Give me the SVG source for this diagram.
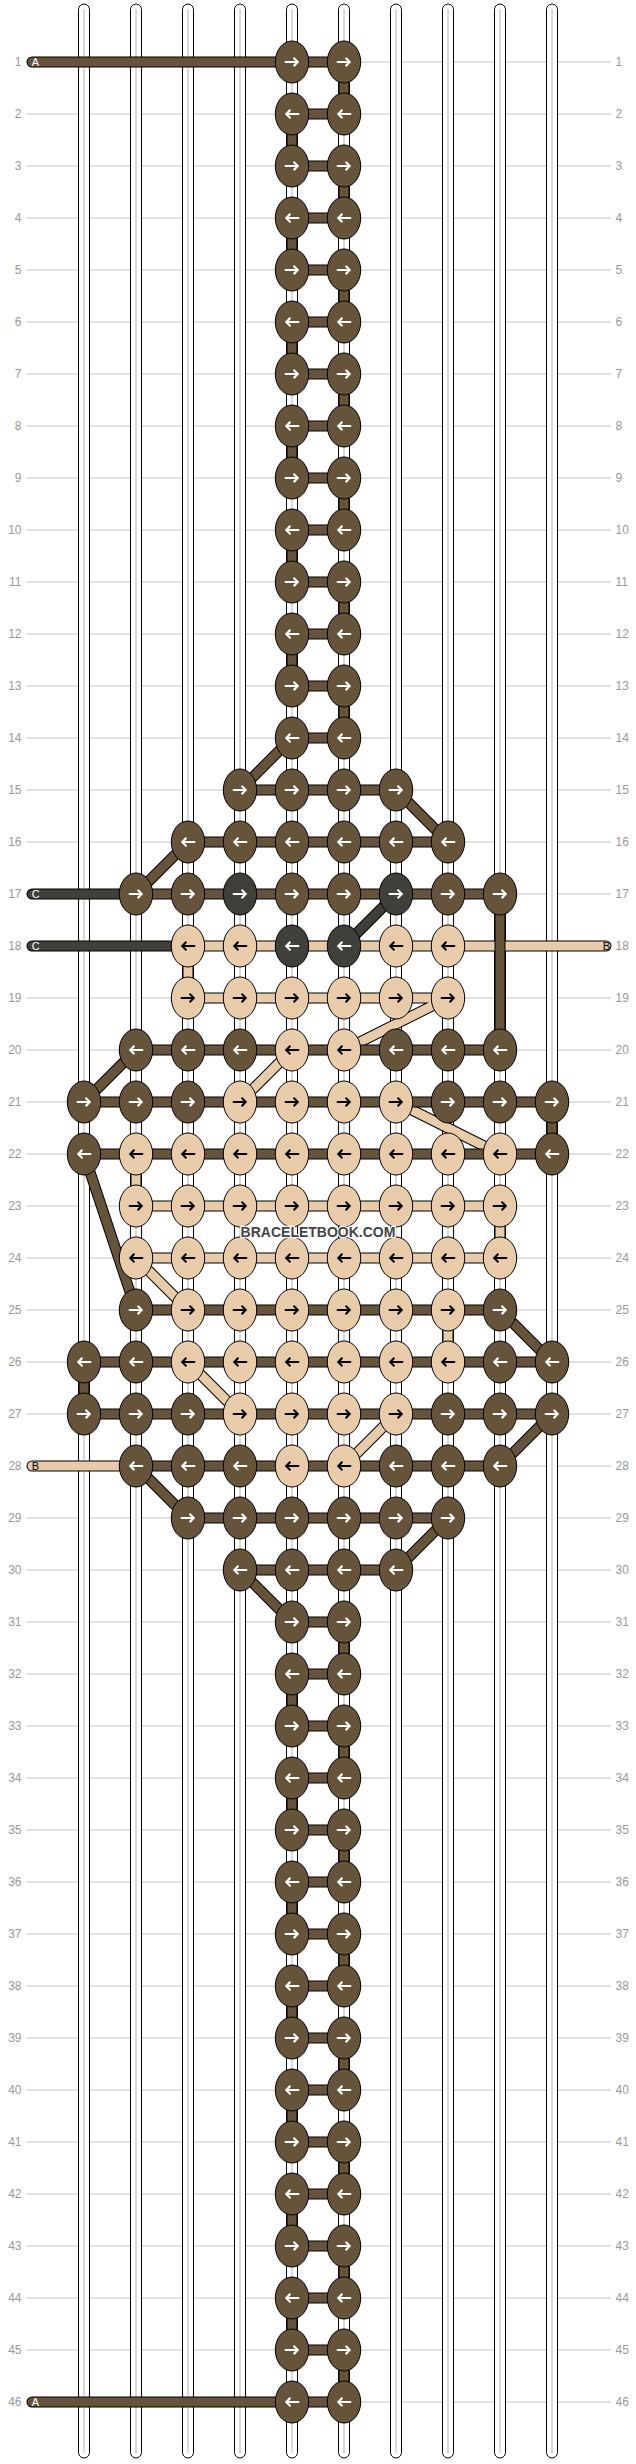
<svg xmlns="http://www.w3.org/2000/svg" xmlns:xlink="http://www.w3.org/1999/xlink" width="636" height="2464" viewBox="0 0 636 2464">
<style>
.rl{stroke:#c4c4c4;stroke-width:1;fill:none}
.num{font-family:"Liberation Sans",Arial,sans-serif;font-size:12px;fill:#999}
.ne{text-anchor:end}
.st{fill:#fff;stroke:#000;stroke-width:1}
.sc{stroke:#c8c8c8;stroke-width:1.3;fill:none}
.o{stroke:#000;stroke-width:11;fill:none}
.cd{stroke:#66543a;stroke-width:9;fill:none}
.ct{stroke:#e8cba8;stroke-width:9;fill:none}
.cg{stroke:#403f3a;stroke-width:9;fill:none}
.kd{fill:#66543a;stroke:#000;stroke-width:1}
.kt{fill:#e8cba8;stroke:#000;stroke-width:1}
.kg{fill:#403f3a;stroke:#000;stroke-width:1}
.aw{fill:none;stroke:#fff;stroke-width:2}
.ab{fill:none;stroke:#000;stroke-width:2}
.lab{font-family:"Liberation Sans",Arial,sans-serif;font-size:11px}
.wm{font-family:"Liberation Sans",Arial,sans-serif;font-size:14px;font-weight:bold;fill:#444;stroke:#fff;stroke-width:2.5;paint-order:stroke;text-anchor:middle}
</style>
<defs>
<path id="aR" d="M-7.2,0H5.5M1.6,-4.3L5.8,0L1.6,4.3"/>
<path id="aL" d="M7.2,0H-5.5M-1.6,-4.3L-5.8,0L-1.6,4.3"/>
<g id="dR"><ellipse class="kd" rx="16.7" ry="21"/><use href="#aR" class="aw"/></g>
<g id="dL"><ellipse class="kd" rx="16.7" ry="21"/><use href="#aL" class="aw"/></g>
<g id="tR"><ellipse class="kt" rx="16.7" ry="21"/><use href="#aR" class="ab"/></g>
<g id="tL"><ellipse class="kt" rx="16.7" ry="21"/><use href="#aL" class="ab"/></g>
<g id="gR"><ellipse class="kg" rx="16.7" ry="21"/><use href="#aR" class="aw"/></g>
<g id="gL"><ellipse class="kg" rx="16.7" ry="21"/><use href="#aL" class="aw"/></g>
<g id="pD">
<path d="M292 62H344M292 114H344M292 166H344M292 218H344M292 270H344M292 322H344M292 374H344M292 426H344M292 478H344M292 530H344M292 582H344M292 634H344M292 686H344M292 738H344M240 790H396M188 842H448M136 894H500M136 1050H500M84 1102H552M84 1154H552M136 1310H500M84 1362H552M84 1414H552M136 1466H500M188 1518H448M240 1570H396M292 1622H344M292 1674H344M292 1726H344M292 1778H344M292 1830H344M292 1882H344M292 1934H344M292 1986H344M292 2038H344M292 2090H344M292 2142H344M292 2194H344M292 2246H344M292 2298H344M292 2350H344M292 2402H344M344 62V114M292 114V166M344 166V218M292 218V270M344 270V322M292 322V374M344 374V426M292 426V478M344 478V530M292 530V582M344 582V634M292 634V686M344 686V738M292 738L240 790M396 790L448 842M188 842L136 894M500 894V1050M136 1050L84 1102M552 1102V1154M84 1154L136 1310M500 1310L552 1362M84 1362V1414M552 1414L500 1466M136 1466L188 1518M448 1518L396 1570M240 1570L292 1622M344 1622V1674M292 1674V1726M344 1726V1778M292 1778V1830M344 1830V1882M292 1882V1934M344 1934V1986M292 1986V2038M344 2038V2090M292 2090V2142M344 2142V2194M292 2194V2246M344 2246V2298M292 2298V2350M344 2350V2402"/>
<path stroke-linecap="round" d="M32 62H292M32 2402H292"/>
</g>
<g id="pT">
<path d="M188 946H448M188 998H448M136 1206H500M136 1258H500M188 946V998M448 998L344 1050M292 1050L240 1102M396 1102L500 1154M136 1154V1206M500 1206V1258M136 1258L188 1310M448 1310V1362M188 1362L240 1414M396 1414L344 1466"/>
<path stroke-linecap="round" d="M448 946H606M32 1466H136"/>
</g>
<g id="pG">
<path d="M396 894L344 946"/>
<path stroke-linecap="round" d="M32 894H136M32 946H188"/>
</g>
</defs>
<rect width="636" height="2464" fill="#fff"/>
<g id="rowlines">
<path class="rl" d="M26 62H611M26 114H611M26 166H611M26 218H611M26 270H611M26 322H611M26 374H611M26 426H611M26 478H611M26 530H611M26 582H611M26 634H611M26 686H611M26 738H611M26 790H611M26 842H611M26 894H611M26 946H611M26 998H611M26 1050H611M26 1102H611M26 1154H611M26 1206H611M26 1258H611M26 1310H611M26 1362H611M26 1414H611M26 1466H611M26 1518H611M26 1570H611M26 1622H611M26 1674H611M26 1726H611M26 1778H611M26 1830H611M26 1882H611M26 1934H611M26 1986H611M26 2038H611M26 2090H611M26 2142H611M26 2194H611M26 2246H611M26 2298H611M26 2350H611M26 2402H611"/>
</g>
<g id="rownumbers" class="num">
<g class="ne">
<text x="21.5" y="66">1</text><text x="21.5" y="118">2</text><text x="21.5" y="170">3</text><text x="21.5" y="222">4</text><text x="21.5" y="274">5</text><text x="21.5" y="326">6</text><text x="21.5" y="378">7</text><text x="21.5" y="430">8</text><text x="21.5" y="482">9</text><text x="21.5" y="534">10</text><text x="21.5" y="586">11</text><text x="21.5" y="638">12</text><text x="21.5" y="690">13</text><text x="21.5" y="742">14</text><text x="21.5" y="794">15</text><text x="21.5" y="846">16</text><text x="21.5" y="898">17</text><text x="21.5" y="950">18</text><text x="21.5" y="1002">19</text><text x="21.5" y="1054">20</text><text x="21.5" y="1106">21</text><text x="21.5" y="1158">22</text><text x="21.5" y="1210">23</text><text x="21.5" y="1262">24</text><text x="21.5" y="1314">25</text><text x="21.5" y="1366">26</text><text x="21.5" y="1418">27</text><text x="21.5" y="1470">28</text><text x="21.5" y="1522">29</text><text x="21.5" y="1574">30</text><text x="21.5" y="1626">31</text><text x="21.5" y="1678">32</text><text x="21.5" y="1730">33</text><text x="21.5" y="1782">34</text><text x="21.5" y="1834">35</text><text x="21.5" y="1886">36</text><text x="21.5" y="1938">37</text><text x="21.5" y="1990">38</text><text x="21.5" y="2042">39</text><text x="21.5" y="2094">40</text><text x="21.5" y="2146">41</text><text x="21.5" y="2198">42</text><text x="21.5" y="2250">43</text><text x="21.5" y="2302">44</text><text x="21.5" y="2354">45</text><text x="21.5" y="2406">46</text>
</g>
<g>
<text x="615.5" y="66">1</text><text x="615.5" y="118">2</text><text x="615.5" y="170">3</text><text x="615.5" y="222">4</text><text x="615.5" y="274">5</text><text x="615.5" y="326">6</text><text x="615.5" y="378">7</text><text x="615.5" y="430">8</text><text x="615.5" y="482">9</text><text x="615.5" y="534">10</text><text x="615.5" y="586">11</text><text x="615.5" y="638">12</text><text x="615.5" y="690">13</text><text x="615.5" y="742">14</text><text x="615.5" y="794">15</text><text x="615.5" y="846">16</text><text x="615.5" y="898">17</text><text x="615.5" y="950">18</text><text x="615.5" y="1002">19</text><text x="615.5" y="1054">20</text><text x="615.5" y="1106">21</text><text x="615.5" y="1158">22</text><text x="615.5" y="1210">23</text><text x="615.5" y="1262">24</text><text x="615.5" y="1314">25</text><text x="615.5" y="1366">26</text><text x="615.5" y="1418">27</text><text x="615.5" y="1470">28</text><text x="615.5" y="1522">29</text><text x="615.5" y="1574">30</text><text x="615.5" y="1626">31</text><text x="615.5" y="1678">32</text><text x="615.5" y="1730">33</text><text x="615.5" y="1782">34</text><text x="615.5" y="1834">35</text><text x="615.5" y="1886">36</text><text x="615.5" y="1938">37</text><text x="615.5" y="1990">38</text><text x="615.5" y="2042">39</text><text x="615.5" y="2094">40</text><text x="615.5" y="2146">41</text><text x="615.5" y="2198">42</text><text x="615.5" y="2250">43</text><text x="615.5" y="2302">44</text><text x="615.5" y="2354">45</text><text x="615.5" y="2406">46</text>
</g>
</g>
<g id="strings">
<rect class="st" x="78.5" y="4" width="11" height="2454" rx="5.5"/>
<rect class="st" x="130.5" y="4" width="11" height="2454" rx="5.5"/>
<rect class="st" x="182.5" y="4" width="11" height="2454" rx="5.5"/>
<rect class="st" x="234.5" y="4" width="11" height="2454" rx="5.5"/>
<rect class="st" x="286.5" y="4" width="11" height="2454" rx="5.5"/>
<rect class="st" x="338.5" y="4" width="11" height="2454" rx="5.5"/>
<rect class="st" x="390.5" y="4" width="11" height="2454" rx="5.5"/>
<rect class="st" x="442.5" y="4" width="11" height="2454" rx="5.5"/>
<rect class="st" x="494.5" y="4" width="11" height="2454" rx="5.5"/>
<rect class="st" x="546.5" y="4" width="11" height="2454" rx="5.5"/>
<path class="sc" d="M84 9V2453M136 9V2453M188 9V2453M240 9V2453M292 9V2453M344 9V2453M396 9V2453M448 9V2453M500 9V2453M552 9V2453"/>
</g>
<g id="connectors">
<use href="#pT" class="o"/>
<use href="#pT" class="ct"/>
<use href="#pG" class="o"/>
<use href="#pG" class="cg"/>
<use href="#pD" class="o"/>
<use href="#pD" class="cd"/>
</g>
<g id="thread-labels" class="lab">
<text x="31.8" y="66" fill="#fff">A</text>
<text x="31.8" y="898" fill="#fff">C</text>
<text x="31.8" y="950" fill="#fff">C</text>
<text x="31.8" y="1470" fill="#000">B</text>
<text x="610" y="950" fill="#000" text-anchor="end">B</text>
<text x="31.8" y="2406" fill="#fff">A</text>
</g>
<g id="knots">
<g id="n1-5"><use href="#dR" x="292" y="62"/></g><g id="n1-6"><use href="#dR" x="344" y="62"/></g>
<g id="n2-5"><use href="#dL" x="292" y="114"/></g><g id="n2-6"><use href="#dL" x="344" y="114"/></g>
<g id="n3-5"><use href="#dR" x="292" y="166"/></g><g id="n3-6"><use href="#dR" x="344" y="166"/></g>
<g id="n4-5"><use href="#dL" x="292" y="218"/></g><g id="n4-6"><use href="#dL" x="344" y="218"/></g>
<g id="n5-5"><use href="#dR" x="292" y="270"/></g><g id="n5-6"><use href="#dR" x="344" y="270"/></g>
<g id="n6-5"><use href="#dL" x="292" y="322"/></g><g id="n6-6"><use href="#dL" x="344" y="322"/></g>
<g id="n7-5"><use href="#dR" x="292" y="374"/></g><g id="n7-6"><use href="#dR" x="344" y="374"/></g>
<g id="n8-5"><use href="#dL" x="292" y="426"/></g><g id="n8-6"><use href="#dL" x="344" y="426"/></g>
<g id="n9-5"><use href="#dR" x="292" y="478"/></g><g id="n9-6"><use href="#dR" x="344" y="478"/></g>
<g id="n10-5"><use href="#dL" x="292" y="530"/></g><g id="n10-6"><use href="#dL" x="344" y="530"/></g>
<g id="n11-5"><use href="#dR" x="292" y="582"/></g><g id="n11-6"><use href="#dR" x="344" y="582"/></g>
<g id="n12-5"><use href="#dL" x="292" y="634"/></g><g id="n12-6"><use href="#dL" x="344" y="634"/></g>
<g id="n13-5"><use href="#dR" x="292" y="686"/></g><g id="n13-6"><use href="#dR" x="344" y="686"/></g>
<g id="n14-5"><use href="#dL" x="292" y="738"/></g><g id="n14-6"><use href="#dL" x="344" y="738"/></g>
<g id="n15-4"><use href="#dR" x="240" y="790"/></g><g id="n15-5"><use href="#dR" x="292" y="790"/></g><g id="n15-6"><use href="#dR" x="344" y="790"/></g><g id="n15-7"><use href="#dR" x="396" y="790"/></g>
<g id="n16-3"><use href="#dL" x="188" y="842"/></g><g id="n16-4"><use href="#dL" x="240" y="842"/></g><g id="n16-5"><use href="#dL" x="292" y="842"/></g><g id="n16-6"><use href="#dL" x="344" y="842"/></g><g id="n16-7"><use href="#dL" x="396" y="842"/></g><g id="n16-8"><use href="#dL" x="448" y="842"/></g>
<g id="n17-2"><use href="#dR" x="136" y="894"/></g><g id="n17-3"><use href="#dR" x="188" y="894"/></g><g id="n17-4"><use href="#gR" x="240" y="894"/></g><g id="n17-5"><use href="#dR" x="292" y="894"/></g><g id="n17-6"><use href="#dR" x="344" y="894"/></g><g id="n17-7"><use href="#gR" x="396" y="894"/></g><g id="n17-8"><use href="#dR" x="448" y="894"/></g><g id="n17-9"><use href="#dR" x="500" y="894"/></g>
<g id="n18-3"><use href="#tL" x="188" y="946"/></g><g id="n18-4"><use href="#tL" x="240" y="946"/></g><g id="n18-5"><use href="#gL" x="292" y="946"/></g><g id="n18-6"><use href="#gL" x="344" y="946"/></g><g id="n18-7"><use href="#tL" x="396" y="946"/></g><g id="n18-8"><use href="#tL" x="448" y="946"/></g>
<g id="n19-3"><use href="#tR" x="188" y="998"/></g><g id="n19-4"><use href="#tR" x="240" y="998"/></g><g id="n19-5"><use href="#tR" x="292" y="998"/></g><g id="n19-6"><use href="#tR" x="344" y="998"/></g><g id="n19-7"><use href="#tR" x="396" y="998"/></g><g id="n19-8"><use href="#tR" x="448" y="998"/></g>
<g id="n20-2"><use href="#dL" x="136" y="1050"/></g><g id="n20-3"><use href="#dL" x="188" y="1050"/></g><g id="n20-4"><use href="#dL" x="240" y="1050"/></g><g id="n20-5"><use href="#tL" x="292" y="1050"/></g><g id="n20-6"><use href="#tL" x="344" y="1050"/></g><g id="n20-7"><use href="#dL" x="396" y="1050"/></g><g id="n20-8"><use href="#dL" x="448" y="1050"/></g><g id="n20-9"><use href="#dL" x="500" y="1050"/></g>
<g id="n21-1"><use href="#dR" x="84" y="1102"/></g><g id="n21-2"><use href="#dR" x="136" y="1102"/></g><g id="n21-3"><use href="#dR" x="188" y="1102"/></g><g id="n21-4"><use href="#tR" x="240" y="1102"/></g><g id="n21-5"><use href="#tR" x="292" y="1102"/></g><g id="n21-6"><use href="#tR" x="344" y="1102"/></g><g id="n21-7"><use href="#tR" x="396" y="1102"/></g><g id="n21-8"><use href="#dR" x="448" y="1102"/></g><g id="n21-9"><use href="#dR" x="500" y="1102"/></g><g id="n21-10"><use href="#dR" x="552" y="1102"/></g>
<g id="n22-1"><use href="#dL" x="84" y="1154"/></g><g id="n22-2"><use href="#tL" x="136" y="1154"/></g><g id="n22-3"><use href="#tL" x="188" y="1154"/></g><g id="n22-4"><use href="#tL" x="240" y="1154"/></g><g id="n22-5"><use href="#tL" x="292" y="1154"/></g><g id="n22-6"><use href="#tL" x="344" y="1154"/></g><g id="n22-7"><use href="#tL" x="396" y="1154"/></g><g id="n22-8"><use href="#tL" x="448" y="1154"/></g><g id="n22-9"><use href="#tL" x="500" y="1154"/></g><g id="n22-10"><use href="#dL" x="552" y="1154"/></g>
<g id="n23-2"><use href="#tR" x="136" y="1206"/></g><g id="n23-3"><use href="#tR" x="188" y="1206"/></g><g id="n23-4"><use href="#tR" x="240" y="1206"/></g><g id="n23-5"><use href="#tR" x="292" y="1206"/></g><g id="n23-6"><use href="#tR" x="344" y="1206"/></g><g id="n23-7"><use href="#tR" x="396" y="1206"/></g><g id="n23-8"><use href="#tR" x="448" y="1206"/></g><g id="n23-9"><use href="#tR" x="500" y="1206"/></g>
<g id="n24-2"><use href="#tL" x="136" y="1258"/></g><g id="n24-3"><use href="#tL" x="188" y="1258"/></g><g id="n24-4"><use href="#tL" x="240" y="1258"/></g><g id="n24-5"><use href="#tL" x="292" y="1258"/></g><g id="n24-6"><use href="#tL" x="344" y="1258"/></g><g id="n24-7"><use href="#tL" x="396" y="1258"/></g><g id="n24-8"><use href="#tL" x="448" y="1258"/></g><g id="n24-9"><use href="#tL" x="500" y="1258"/></g>
<g id="n25-2"><use href="#dR" x="136" y="1310"/></g><g id="n25-3"><use href="#tR" x="188" y="1310"/></g><g id="n25-4"><use href="#tR" x="240" y="1310"/></g><g id="n25-5"><use href="#tR" x="292" y="1310"/></g><g id="n25-6"><use href="#tR" x="344" y="1310"/></g><g id="n25-7"><use href="#tR" x="396" y="1310"/></g><g id="n25-8"><use href="#tR" x="448" y="1310"/></g><g id="n25-9"><use href="#dR" x="500" y="1310"/></g>
<g id="n26-1"><use href="#dL" x="84" y="1362"/></g><g id="n26-2"><use href="#dL" x="136" y="1362"/></g><g id="n26-3"><use href="#tL" x="188" y="1362"/></g><g id="n26-4"><use href="#tL" x="240" y="1362"/></g><g id="n26-5"><use href="#tL" x="292" y="1362"/></g><g id="n26-6"><use href="#tL" x="344" y="1362"/></g><g id="n26-7"><use href="#tL" x="396" y="1362"/></g><g id="n26-8"><use href="#tL" x="448" y="1362"/></g><g id="n26-9"><use href="#dL" x="500" y="1362"/></g><g id="n26-10"><use href="#dL" x="552" y="1362"/></g>
<g id="n27-1"><use href="#dR" x="84" y="1414"/></g><g id="n27-2"><use href="#dR" x="136" y="1414"/></g><g id="n27-3"><use href="#dR" x="188" y="1414"/></g><g id="n27-4"><use href="#tR" x="240" y="1414"/></g><g id="n27-5"><use href="#tR" x="292" y="1414"/></g><g id="n27-6"><use href="#tR" x="344" y="1414"/></g><g id="n27-7"><use href="#tR" x="396" y="1414"/></g><g id="n27-8"><use href="#dR" x="448" y="1414"/></g><g id="n27-9"><use href="#dR" x="500" y="1414"/></g><g id="n27-10"><use href="#dR" x="552" y="1414"/></g>
<g id="n28-2"><use href="#dL" x="136" y="1466"/></g><g id="n28-3"><use href="#dL" x="188" y="1466"/></g><g id="n28-4"><use href="#dL" x="240" y="1466"/></g><g id="n28-5"><use href="#tL" x="292" y="1466"/></g><g id="n28-6"><use href="#tL" x="344" y="1466"/></g><g id="n28-7"><use href="#dL" x="396" y="1466"/></g><g id="n28-8"><use href="#dL" x="448" y="1466"/></g><g id="n28-9"><use href="#dL" x="500" y="1466"/></g>
<g id="n29-3"><use href="#dR" x="188" y="1518"/></g><g id="n29-4"><use href="#dR" x="240" y="1518"/></g><g id="n29-5"><use href="#dR" x="292" y="1518"/></g><g id="n29-6"><use href="#dR" x="344" y="1518"/></g><g id="n29-7"><use href="#dR" x="396" y="1518"/></g><g id="n29-8"><use href="#dR" x="448" y="1518"/></g>
<g id="n30-4"><use href="#dL" x="240" y="1570"/></g><g id="n30-5"><use href="#dL" x="292" y="1570"/></g><g id="n30-6"><use href="#dL" x="344" y="1570"/></g><g id="n30-7"><use href="#dL" x="396" y="1570"/></g>
<g id="n31-5"><use href="#dR" x="292" y="1622"/></g><g id="n31-6"><use href="#dR" x="344" y="1622"/></g>
<g id="n32-5"><use href="#dL" x="292" y="1674"/></g><g id="n32-6"><use href="#dL" x="344" y="1674"/></g>
<g id="n33-5"><use href="#dR" x="292" y="1726"/></g><g id="n33-6"><use href="#dR" x="344" y="1726"/></g>
<g id="n34-5"><use href="#dL" x="292" y="1778"/></g><g id="n34-6"><use href="#dL" x="344" y="1778"/></g>
<g id="n35-5"><use href="#dR" x="292" y="1830"/></g><g id="n35-6"><use href="#dR" x="344" y="1830"/></g>
<g id="n36-5"><use href="#dL" x="292" y="1882"/></g><g id="n36-6"><use href="#dL" x="344" y="1882"/></g>
<g id="n37-5"><use href="#dR" x="292" y="1934"/></g><g id="n37-6"><use href="#dR" x="344" y="1934"/></g>
<g id="n38-5"><use href="#dL" x="292" y="1986"/></g><g id="n38-6"><use href="#dL" x="344" y="1986"/></g>
<g id="n39-5"><use href="#dR" x="292" y="2038"/></g><g id="n39-6"><use href="#dR" x="344" y="2038"/></g>
<g id="n40-5"><use href="#dL" x="292" y="2090"/></g><g id="n40-6"><use href="#dL" x="344" y="2090"/></g>
<g id="n41-5"><use href="#dR" x="292" y="2142"/></g><g id="n41-6"><use href="#dR" x="344" y="2142"/></g>
<g id="n42-5"><use href="#dL" x="292" y="2194"/></g><g id="n42-6"><use href="#dL" x="344" y="2194"/></g>
<g id="n43-5"><use href="#dR" x="292" y="2246"/></g><g id="n43-6"><use href="#dR" x="344" y="2246"/></g>
<g id="n44-5"><use href="#dL" x="292" y="2298"/></g><g id="n44-6"><use href="#dL" x="344" y="2298"/></g>
<g id="n45-5"><use href="#dR" x="292" y="2350"/></g><g id="n45-6"><use href="#dR" x="344" y="2350"/></g>
<g id="n46-5"><use href="#dL" x="292" y="2402"/></g><g id="n46-6"><use href="#dL" x="344" y="2402"/></g>
</g>
<text class="wm" x="318" y="1237">BRACELETBOOK.COM</text>
</svg>
